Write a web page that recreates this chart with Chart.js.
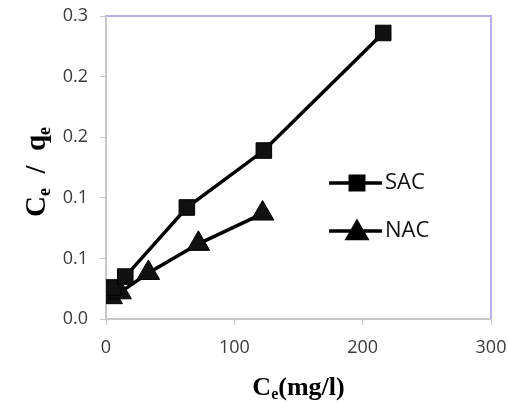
<!DOCTYPE html>
<html>
<head>
<meta charset="utf-8">
<script src="https://cdn.jsdelivr.net/npm/chart.js@4.4.0/dist/chart.umd.min.js"></script>
<style>
  html, body { margin: 0; padding: 0; background: #fff; }
  #wrap { width: 508px; height: 405px; }
</style>
</head>
<body>
<div id="wrap"><canvas id="chart" width="508" height="405"></canvas></div>
<script>
// Values
const sacX = [5.5, 15, 63, 123, 216];
const sacY = [0.026, 0.035, 0.092, 0.139, 0.236];
const nacX = [4, 11, 33, 72, 122];
const nacY = [0.018, 0.022, 0.038, 0.062, 0.087];
const seriesNames = ['SAC', 'NAC'];
// excel-style rounded labels (0.05 steps shown with one decimal)
const yTickLabels = ['0.0', '0.1', '0.1', '0.2', '0.2', '0.3'];
const xTicks = [0, 100, 200, 300];

function toPoints(xs, ys) {
  return xs.map(function(x, i) { return { x: x, y: ys[i] }; });
}

// draws a label with subscript pieces, centered on (cx, cy)
function drawSubText(ctx, parts, cx, cy, size) {
  const big = 'bold ' + size + 'px "Liberation Serif", "Times New Roman", serif';
  const small = 'bold ' + Math.round(size * 0.62) + 'px "Liberation Serif", "Times New Roman", serif';
  let total = 0;
  parts.forEach(function(p) {
    ctx.font = p.sub ? small : big;
    p.w = ctx.measureText(p.t).width;
    total += p.w;
  });
  let x = cx - total / 2;
  ctx.textBaseline = 'alphabetic';
  ctx.textAlign = 'left';
  parts.forEach(function(p) {
    ctx.font = p.sub ? small : big;
    ctx.fillText(p.t, x, cy + size * 0.33 + (p.sub ? size * 0.18 : 0));
    x += p.w;
  });
}

const bgPlugin = {
  id: 'bg',
  beforeDraw: function(chart) {
    const ctx = chart.ctx;
    ctx.save();
    ctx.fillStyle = '#fff';
    ctx.fillRect(0, 0, chart.width, chart.height);
    ctx.restore();
  },
  beforeDatasetsDraw: function(chart) {
    // light blue frame on top and right of the plot area
    const a = chart.chartArea;
    const ctx = chart.ctx;
    ctx.save();
    ctx.strokeStyle = '#b4b4ea';
    ctx.lineWidth = 2;
    ctx.beginPath();
    ctx.moveTo(a.left, a.top);
    ctx.lineTo(a.right, a.top);
    ctx.lineTo(a.right, a.bottom);
    ctx.stroke();
    ctx.restore();
  }
};

const labelPlugin = {
  id: 'labels',
  afterDraw: function(chart) {
    const ctx = chart.ctx;
    const a = chart.chartArea;
    ctx.save();
    ctx.fillStyle = '#000';
    // x title
    drawSubText(ctx, [{ t: 'C' }, { t: 'e', sub: true }, { t: '(mg/l)' }], (a.left + a.right) / 2, 386, 26);
    // y title, rotated
    ctx.translate(35, 172);
    ctx.rotate(-Math.PI / 2);
    drawSubText(ctx, [{ t: 'C' }, { t: 'e', sub: true }, { t: '  /  q' }, { t: 'e', sub: true }], 0, 0, 29);
    ctx.restore();

    // legend inside plot area
    ctx.save();
    const lx = a.left + 223;
    const rows = [a.top + 167, a.top + 215];
    chart.data.datasets.forEach(function(ds, i) {
      const y = rows[i];
      ctx.strokeStyle = '#000';
      ctx.lineWidth = 3.5;
      ctx.beginPath();
      ctx.moveTo(lx, y);
      ctx.lineTo(lx + 53, y);
      ctx.stroke();
      ctx.fillStyle = '#000';
      Chart.helpers.drawPoint(ctx, {
        pointStyle: ds.pointStyle,
        radius: ds.pointStyle === 'triangle' ? 11 : 9.5,
        rotation: 0,
        borderWidth: 1
      }, lx + 28, ds.pointStyle === 'triangle' ? y + 2 : y);
      ctx.fillStyle = '#111';
      ctx.font = '22px "Open Sans", sans-serif';
      ctx.textAlign = 'left';
      ctx.textBaseline = 'middle';
      ctx.fillText(ds.label, lx + 56, y);
    });
    ctx.restore();
  }
};

new Chart(document.getElementById('chart'), {
  type: 'scatter',
  data: {
    datasets: [{
      label: seriesNames[0],
      data: toPoints(sacX, sacY),
      showLine: true,
      borderColor: '#000',
      backgroundColor: '#000',
      borderWidth: 3.5,
      pointStyle: 'rect',
      pointRadius: 11,
      pointBorderWidth: 1,
      pointBackgroundColor: '#111'
    }, {
      label: seriesNames[1],
      data: toPoints(nacX, nacY),
      showLine: true,
      borderColor: '#000',
      backgroundColor: '#000',
      borderWidth: 3.5,
      pointStyle: 'triangle',
      pointRadius: 13,
      pointBorderWidth: 1,
      pointBackgroundColor: '#111'
    }]
  },
  options: {
    responsive: false,
    animation: false,
    layout: { padding: { left: 0, top: 16, right: 17, bottom: 0 } },
    plugins: {
      legend: { display: false },
      tooltip: { enabled: false }
    },
    scales: {
      x: {
        type: 'linear',
        min: 0,
        max: 300,
        afterBuildTicks: function(axis) {
          axis.ticks = xTicks.map(function(v) { return { value: v }; });
        },
        afterFit: function(axis) {
          axis.height = 86;
          axis.paddingLeft = 0;
          axis.paddingRight = 0;
        },
        grid: { drawOnChartArea: false, drawTicks: true, tickLength: 6, color: '#c8c8c8' },
        border: { color: '#c8c8c8', width: 2 },
        ticks: {
          color: '#3a3a3a',
          padding: 12,
          font: { family: '"Open Sans", sans-serif', size: 18 }
        }
      },
      y: {
        type: 'linear',
        min: 0,
        max: 0.25,
        afterFit: function(axis) {
          axis.width = 106;
          axis.paddingTop = 0;
          axis.paddingBottom = 0;
        },
        grid: { drawOnChartArea: false, drawTicks: true, tickLength: 6, color: '#c8c8c8' },
        border: { color: '#c8c8c8', width: 2 },
        ticks: {
          stepSize: 0.05,
          color: '#3a3a3a',
          padding: 12,
          font: { family: '"Open Sans", sans-serif', size: 18 },
          callback: function(value, index) { return yTickLabels[index]; }
        }
      }
    }
  },
  plugins: [bgPlugin, labelPlugin]
});
</script>
</body>
</html>
